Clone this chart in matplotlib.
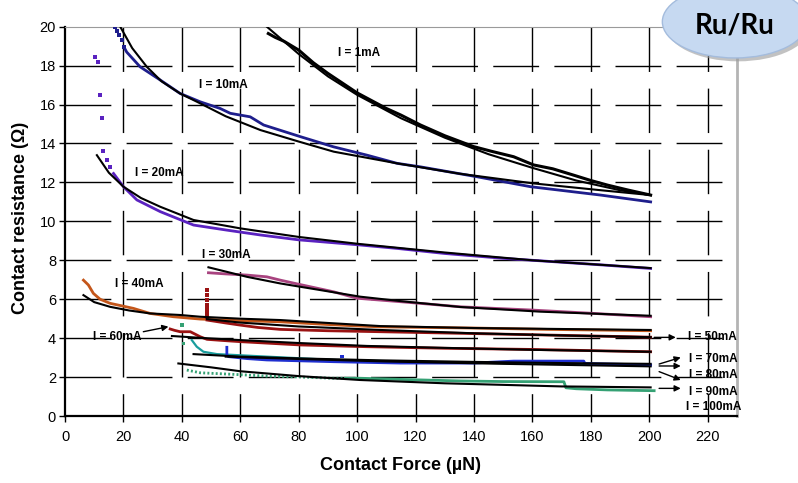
import matplotlib
matplotlib.use('Agg')
import matplotlib.pyplot as plt
from matplotlib.patches import Ellipse

plt.rcParams['font.family'] = ['Liberation Sans', 'DejaVu Sans']
plt.rcParams['lines.scale_dashes'] = False

# ---- data (force in uN, resistance in ohm) ----
f_1ma = [69.6, 72, 75, 80, 85, 90, 95, 100, 105, 110, 115, 121.7, 130, 139.9, 146, 153.6,
         160.4, 167, 174, 180, 185.8, 193, 200.5]
r_1ma = [19.65, 19.45, 19.25, 18.8, 18.15, 17.6, 17.1, 16.6, 16.2, 15.8, 15.46, 14.95, 14.4,
         13.84, 13.6, 13.32, 12.9, 12.7, 12.38, 12.1, 11.86, 11.6, 11.35]
f_1ma_fit = [69.1, 80, 90, 100, 115, 130, 145, 160, 175, 190, 200.5]
r_1ma_fit = [20, 18.6, 17.45, 16.5, 15.3, 14.3, 13.45, 12.75, 12.1, 11.6, 11.35]

f_10ma_dots = [17.1, 17.8, 18.5, 19.4, 20.2]
r_10ma_dots = [20, 19.8, 19.55, 19.3, 18.95]
f_10ma = [20.2, 21.1, 25.7, 32.6, 39.4, 46.3, 53.1, 56.6, 63.4, 68, 80.6, 91.9, 103.4,
          113.7, 121.7, 141.1, 159.4, 183.4, 200.5]
r_10ma = [18.95, 18.7, 17.94, 17.26, 16.57, 16.14, 15.8, 15.55, 15.37, 14.95, 14.35, 13.83,
          13.4, 12.98, 12.8, 12.29, 11.78, 11.35, 11.0]
f_10ma_fit = [18.9, 23, 28, 33, 39.4, 46.3, 55, 66.9, 80, 92, 113.7, 135, 160.4, 183.4, 200.5]
r_10ma_fit = [20, 18.9, 17.94, 17.2, 16.57, 16.06, 15.4, 14.69, 14.1, 13.58, 12.98, 12.45,
              11.95, 11.6, 11.35]

f_20ma_dots = [10.3, 11.4, 12.0, 12.6, 13.1, 14.3, 15.4]
r_20ma_dots = [18.45, 18.2, 16.49, 15.29, 13.62, 13.15, 12.8]
f_20ma = [16.6, 20, 24.6, 32.6, 44, 55.4, 66.9, 80, 100, 113.7, 130, 150, 170, 185, 200.5]
r_20ma = [12.46, 11.78, 11.1, 10.5, 9.81, 9.55, 9.3, 9.05, 8.8, 8.61, 8.35, 8.1, 7.9, 7.75, 7.58]
f_20ma_fit = [10.9, 15, 20, 26, 32.6, 44, 60, 80, 100, 130, 160, 200.5]
r_20ma_fit = [13.4, 12.5, 11.78, 11.2, 10.75, 10.07, 9.64, 9.2, 8.85, 8.4, 8.0, 7.6]

f_30ma = [49.1, 55, 62.3, 69.1, 73.7, 80.6, 92, 100, 115, 135.4, 160.4, 180, 200.5]
r_30ma = [7.36, 7.3, 7.24, 7.15, 6.98, 6.75, 6.38, 6.05, 5.87, 5.61, 5.44, 5.28, 5.1]
f_30ma_fit = [49.1, 62.3, 73.7, 87.4, 101.1, 115, 135.4, 162.8, 200.5]
r_30ma_fit = [7.64, 7.15, 6.81, 6.47, 6.13, 5.9, 5.6, 5.36, 5.15]

f_40ma = [6.3, 8, 9.7, 12, 15.4, 23.4, 29.1, 37.1, 46.3, 60, 73.7, 90, 101, 108, 140, 165, 200.5]
r_40ma = [6.98, 6.73, 6.3, 6.0, 5.79, 5.53, 5.27, 5.1, 4.98, 4.9, 4.84, 4.7, 4.62, 4.58, 4.52,
          4.45, 4.38]
f_40ma_fit = [6.3, 10, 15.4, 22, 29.1, 39.4, 46.3, 60, 73.7, 90, 108, 140, 170, 200.5]
r_40ma_fit = [6.21, 5.85, 5.61, 5.42, 5.27, 5.19, 5.1, 5.0, 4.93, 4.78, 4.62, 4.52, 4.47, 4.42]

f_50ma_spike = [48.6, 48.6, 48.6, 48.6, 48.6, 48.6, 48.6]
r_50ma_spike = [6.47, 6.2, 5.95, 5.7, 5.5, 5.3, 5.1]
f_50ma = [48.6, 55, 60, 66, 73.7, 90, 108, 135, 165, 200.5]
r_50ma = [4.93, 4.78, 4.67, 4.55, 4.45, 4.38, 4.33, 4.25, 4.16, 4.05]
f_50ma_fit = [48.6, 60, 80, 108, 140, 170, 200.5]
r_50ma_fit = [4.98, 4.8, 4.6, 4.42, 4.25, 4.14, 4.05]

f_60ma = [36, 37.5, 39.4, 42.9, 46.3, 48.6, 54, 60, 80.6, 103.4, 130, 160, 180, 200.5]
r_60ma = [4.47, 4.4, 4.33, 4.33, 4.07, 3.94, 3.88, 3.82, 3.65, 3.56, 3.48, 3.42, 3.36, 3.3]
f_60ma_fit = [36.6, 48, 60, 80, 103.4, 130, 160, 200.5]
r_60ma_fit = [4.11, 4.0, 3.9, 3.75, 3.6, 3.5, 3.4, 3.3]

f_70ma = [55.4, 55.4, 56, 62.3, 69.1, 92, 114.8, 140, 153.6, 162.8, 177.6, 178, 200.5]
r_70ma = [3.53, 3.13, 3.05, 2.95, 2.88, 2.79, 2.72, 2.72, 2.82, 2.82, 2.82, 2.7, 2.62]
f_80ma = [43.4, 45.1, 47.4, 52, 60, 69.1, 92, 115, 140, 170, 190, 200.5]
r_80ma = [3.9, 3.56, 3.3, 3.18, 3.12, 3.05, 2.88, 2.8, 2.74, 2.68, 2.65, 2.62]
f_70ma_fit = [44, 60, 80, 108, 140, 170, 200.5]
r_70ma_fit = [3.18, 3.05, 2.96, 2.86, 2.78, 2.72, 2.68]
f_80ma_fit = [55, 80, 110, 150, 200.5]
r_80ma_fit = [3.05, 2.93, 2.8, 2.68, 2.55]

f_90ma_dots = [41.7, 46.3, 57.7, 69.1, 80.6, 92, 96]
r_90ma_dots = [2.36, 2.22, 2.14, 2.05, 2.0, 1.94, 1.94]
f_90ma = [96, 101, 115, 135.4, 150, 170.8, 171.5, 175, 185.7, 201.7]
r_90ma = [1.94, 1.94, 1.88, 1.8, 1.77, 1.76, 1.45, 1.4, 1.34, 1.3]
f_90ma_fit = [38.8, 50, 60, 80, 101, 130, 170, 200.5]
r_90ma_fit = [2.7, 2.5, 2.3, 2.05, 1.85, 1.68, 1.52, 1.47]

f_stray = [40, 40.6, 94.8]
r_stray = [4.67, 3.73, 3.05]

x_ticks = [0, 20, 40, 60, 80, 100, 120, 140, 160, 180, 200, 220]
y_ticks = [0, 2, 4, 6, 8, 10, 12, 14, 16, 18, 20]

c_10 = '#1e1e8c'
c_20 = '#5a22c0'
c_30 = '#a8437f'
c_40 = '#c4561a'
c_red = '#9a1212'
c_70 = '#1f2fd0'
c_80 = '#1a9c9c'
c_90 = '#35a174'

fig = plt.figure(figsize=(7.98, 4.83), dpi=100)
ax = fig.add_axes([0.0815, 0.1387, 0.8418, 0.806])
ax.set_xlim(0, 230)
ax.set_ylim(0, 20)

# dashed Excel-like grid
ax.hlines(y_ticks[1:-1], 0, 230, colors='black', lw=1.0, linestyles=(0, (33, 11)), zorder=1)
ax.vlines(x_ticks[1:], 20, 0, colors='black', lw=1.0, linestyles=(0, (32, 12)), zorder=1)

dw = 2.0
fw = 1.5
# data
ax.plot(f_1ma, r_1ma, color='black', lw=2.2, zorder=3)
ax.scatter(f_10ma_dots, r_10ma_dots, s=5, color=c_10, marker='s', lw=0, zorder=3)
ax.plot(f_10ma, r_10ma, color=c_10, lw=dw, zorder=3)
ax.scatter(f_20ma_dots, r_20ma_dots, s=5, color=c_20, marker='s', lw=0, zorder=3)
ax.plot(f_20ma, r_20ma, color=c_20, lw=dw, zorder=3)
ax.plot(f_30ma, r_30ma, color=c_30, lw=dw, zorder=3)
ax.plot(f_40ma, r_40ma, color=c_40, lw=dw, zorder=3)
ax.scatter(f_50ma_spike, r_50ma_spike, s=5, color=c_red, marker='s', lw=0, zorder=3)
ax.plot(f_50ma, r_50ma, color=c_red, lw=dw, zorder=3)
ax.plot(f_60ma, r_60ma, color=c_red, lw=dw, zorder=3)
ax.plot(f_80ma, r_80ma, color=c_80, lw=1.6, zorder=3)
ax.plot(f_70ma, r_70ma, color=c_70, lw=dw, zorder=3)
ax.plot(f_90ma_dots, r_90ma_dots, color=c_90, lw=2.0, ls=(0, (1.4, 1.6)), zorder=3)
ax.plot(f_90ma, r_90ma, color=c_90, lw=dw, zorder=3)
ax.scatter(f_stray, r_stray, s=6, color=[c_90, c_90, c_70], marker='s', lw=0, zorder=3)

# fits
for fx, fy in [(f_1ma_fit, r_1ma_fit), (f_10ma_fit, r_10ma_fit), (f_20ma_fit, r_20ma_fit),
               (f_30ma_fit, r_30ma_fit), (f_40ma_fit, r_40ma_fit), (f_50ma_fit, r_50ma_fit),
               (f_60ma_fit, r_60ma_fit), (f_70ma_fit, r_70ma_fit), (f_80ma_fit, r_80ma_fit),
               (f_90ma_fit, r_90ma_fit)]:
    ax.plot(fx, fy, color='black', lw=fw, zorder=4)

# spines and ticks
ax.spines['left'].set_linewidth(1.6)
ax.spines['bottom'].set_linewidth(1.6)
ax.spines['top'].set_color('#9a9a9a')
ax.spines['top'].set_linewidth(0.8)
ax.spines['right'].set_color('#b4b4b4')
ax.spines['right'].set_linewidth(2.0)
ax.set_xticks(x_ticks)
ax.set_yticks(y_ticks)
ax.tick_params(axis='x', direction='out', length=4, width=1, labelsize=10.5, pad=6)
ax.tick_params(axis='y', direction='out', length=4, width=1, labelsize=10.5, pad=2.5)

ax.set_xlabel('Contact Force (µN)', fontsize=13, fontweight='bold')
ax.xaxis.set_label_coords(0.499, -0.105)
ax.set_ylabel('Contact resistance (Ω)', fontsize=13, fontweight='bold')
ax.yaxis.set_label_coords(-0.054, 0.508)

# curve labels
lab = dict(fontsize=8.5, fontweight='bold', ha='center', va='center', zorder=6)
ax.text(100.8, 18.63, 'I = 1mA', **lab)
ax.text(54.3, 17.0, 'I = 10mA', **lab)
ax.text(32.3, 12.47, 'I = 20mA', **lab)
ax.text(55.1, 8.27, 'I = 30mA', **lab)
ax.text(25.4, 6.76, 'I = 40mA', **lab)
ax.text(18.0, 4.04, 'I = 60mA', **lab)
ax.text(221.8, 4.08, 'I = 50mA', clip_on=False, **lab)
ax.text(222, 2.91, 'I = 70mA', clip_on=False, **lab)
ax.text(222, 2.1, 'I = 80mA', clip_on=False, **lab)
ax.text(222, 1.25, 'I = 90mA', clip_on=False, **lab)
ax.text(222, 0.45, 'I = 100mA', clip_on=False, **lab)

arrow = dict(arrowstyle='-|>', color='black', lw=1.0, mutation_scale=9, shrinkA=0, shrinkB=0)
for (x0, y0), (x1, y1) in [((26.8, 4.33), (35.4, 4.59)),
                           ((201.7, 4.04), (209.1, 4.04)),
                           ((203.4, 2.67), (210.8, 3.01)),
                           ((203.4, 2.57), (210.8, 2.57)),
                           ((203.4, 2.28), (210.8, 1.85)),
                           ((203.4, 1.42), (210.8, 1.42))]:
    ax.annotate('', xy=(x1, y1), xytext=(x0, y0), arrowprops=arrow, zorder=6)

# Ru/Ru badge
fig.add_artist(Ellipse((0.925, 0.948), 0.182, 0.150, transform=fig.transFigure,
                       facecolor='#9a9a9a', edgecolor='none', alpha=0.6))
fig.add_artist(Ellipse((0.921, 0.955), 0.182, 0.150, transform=fig.transFigure,
                       facecolor='#c6d9f1', edgecolor='#a4bcdd', lw=1.0))
fig.text(0.921, 0.948, 'Ru/Ru', fontsize=20, fontweight='bold', family=['Lato', 'DejaVu Sans'],
         ha='center', va='center')

fig.savefig('out.png', dpi=100)
